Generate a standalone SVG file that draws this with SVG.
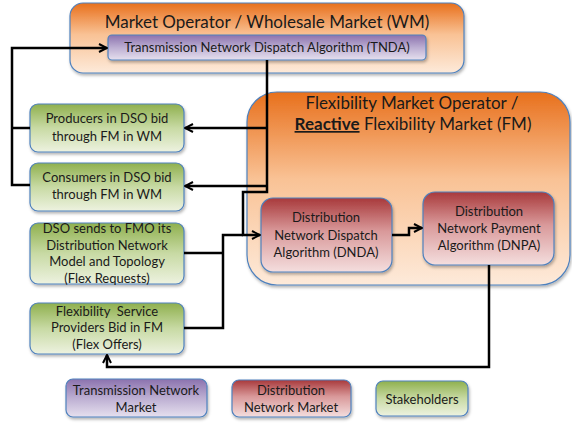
<svg xmlns="http://www.w3.org/2000/svg" width="572" height="424" viewBox="0 0 572 424">
<defs>
<linearGradient id="gOr" x1="0" y1="0" x2="0" y2="1"><stop offset="0" stop-color="#E8701C"/><stop offset="0.45" stop-color="#F9C295"/><stop offset="1" stop-color="#FDEADA"/></linearGradient>
<linearGradient id="gPu" x1="0" y1="0" x2="0" y2="1"><stop offset="0" stop-color="#8B72AE"/><stop offset="0.5" stop-color="#BCAED2"/><stop offset="1" stop-color="#E6E0EE"/></linearGradient>
<linearGradient id="gRe" x1="0" y1="0" x2="0" y2="1"><stop offset="0" stop-color="#A8393B"/><stop offset="0.45" stop-color="#D9999A"/><stop offset="1" stop-color="#F4DEDE"/></linearGradient>
<linearGradient id="gGr" x1="0" y1="0" x2="0" y2="1"><stop offset="0" stop-color="#8FB04E"/><stop offset="0.5" stop-color="#C8DAA4"/><stop offset="1" stop-color="#EDF2E0"/></linearGradient>
<filter id="sh" x="-10%" y="-10%" width="120%" height="130%"><feDropShadow dx="1" dy="2" stdDeviation="1.5" flood-color="#000" flood-opacity="0.3"/></filter>
<marker id="ar" viewBox="0 0 10 10" refX="9" refY="5" markerWidth="10" markerHeight="10" markerUnits="userSpaceOnUse" orient="auto"><path d="M1,1 L9,5 L1,9" fill="none" stroke="#000" stroke-width="2"/></marker>
</defs>
<style>
.box{stroke:#4F81BD;stroke-width:1.2;filter:url(#sh)}
text{font-family:Lato,"Liberation Sans",sans-serif;fill:#1a1a1a;text-anchor:middle}
.t{font-size:13px}
.h{font-size:17px}
.c{fill:none;stroke:#000;stroke-width:2.5}
</style>
<rect width="572" height="424" fill="#fff"/>
<g id="wm">
<rect class="box" x="70" y="3" width="394" height="70" rx="13" fill="url(#gOr)"/>
<text class="h" x="267" y="28">Market Operator / Wholesale Market (WM)</text>
</g>
<g id="tnda">
<rect class="box" x="108" y="35" width="318" height="25" rx="4" fill="url(#gPu)"/>
<text class="t" x="267" y="52">Transmission Network Dispatch Algorithm (TNDA)</text>
</g>
<g id="fm">
<rect class="box" x="247" y="92" width="323" height="193" rx="30" fill="url(#gOr)"/>
<text class="h" x="412" y="109">Flexibility Market Operator /</text>
<text class="h" x="413" y="130"><tspan font-weight="bold" text-decoration="underline">Reactive</tspan> Flexibility Market (FM)</text>
</g>
<g id="producers">
<rect class="box" x="30" y="104" width="154" height="48" rx="8" fill="url(#gGr)"/>
<text class="t" x="107" y="123">Producers in DSO bid</text>
<text class="t" x="107" y="141">through FM in WM</text>
</g>
<g id="consumers">
<rect class="box" x="30" y="163" width="154" height="48" rx="8" fill="url(#gGr)"/>
<text class="t" x="107" y="182">Consumers in DSO bid</text>
<text class="t" x="107" y="199">through FM in WM</text>
</g>
<g id="dso">
<rect class="box" x="30" y="223" width="154" height="61" rx="8" fill="url(#gGr)"/>
<text class="t" x="107" y="233">DSO sends to FMO its</text>
<text class="t" x="107" y="250">Distribution Network</text>
<text class="t" x="107" y="266">Model and Topology</text>
<text class="t" x="107" y="283">(Flex Requests)</text>
</g>
<g id="fsp">
<rect class="box" x="30" y="303" width="154" height="51" rx="8" fill="url(#gGr)"/>
<text class="t" x="107" y="316" xml:space="preserve">Flexibility  Service</text>
<text class="t" x="107" y="332">Providers Bid in FM</text>
<text class="t" x="107" y="349">(Flex Offers)</text>
</g>
<g id="dnda">
<rect class="box" x="261" y="198" width="131" height="74" rx="12" fill="url(#gRe)"/>
<text class="t" x="326" y="222">Distribution</text>
<text class="t" x="326" y="240">Network Dispatch</text>
<text class="t" x="326" y="257">Algorithm (DNDA)</text>
</g>
<g id="dnpa">
<rect class="box" x="423" y="192" width="131" height="73" rx="12" fill="url(#gRe)"/>
<text class="t" x="489" y="216">Distribution</text>
<text class="t" x="489" y="233">Network Payment</text>
<text class="t" x="489" y="250">Algorithm (DNPA)</text>
</g>
<g id="legend-tn">
<rect class="box" x="66" y="379" width="141" height="38" rx="7" fill="url(#gPu)"/>
<text class="t" x="136" y="395">Transmission Network</text>
<text class="t" x="136" y="412">Market</text>
</g>
<g id="legend-dn">
<rect class="box" x="232" y="380" width="119" height="37" rx="7" fill="url(#gRe)"/>
<text class="t" x="291" y="395">Distribution</text>
<text class="t" x="291" y="412">Network Market</text>
</g>
<g id="legend-st">
<rect class="box" x="376" y="381" width="92" height="35" rx="7" fill="url(#gGr)"/>
<text class="t" x="422" y="404">Stakeholders</text>
</g>
<g id="connectors">
<path class="c" d="M30,185 H12 V48 H107" marker-end="url(#ar)"/>
<path class="c" d="M30,128 H12"/>
<path class="c" d="M267,60 V192 H243 V235 H260" marker-end="url(#ar)"/>
<path class="c" d="M267,128 H185" marker-end="url(#ar)"/>
<path class="c" d="M267,186 H185" marker-end="url(#ar)"/>
<path class="c" d="M184,253 H223"/>
<path class="c" d="M184,328 H223 V235 H243"/>
<path class="c" d="M392,235 H409 V228 H422" marker-end="url(#ar)"/>
<path class="c" d="M489,265 V367 H107 V355" marker-end="url(#ar)"/>
</g>
</svg>
